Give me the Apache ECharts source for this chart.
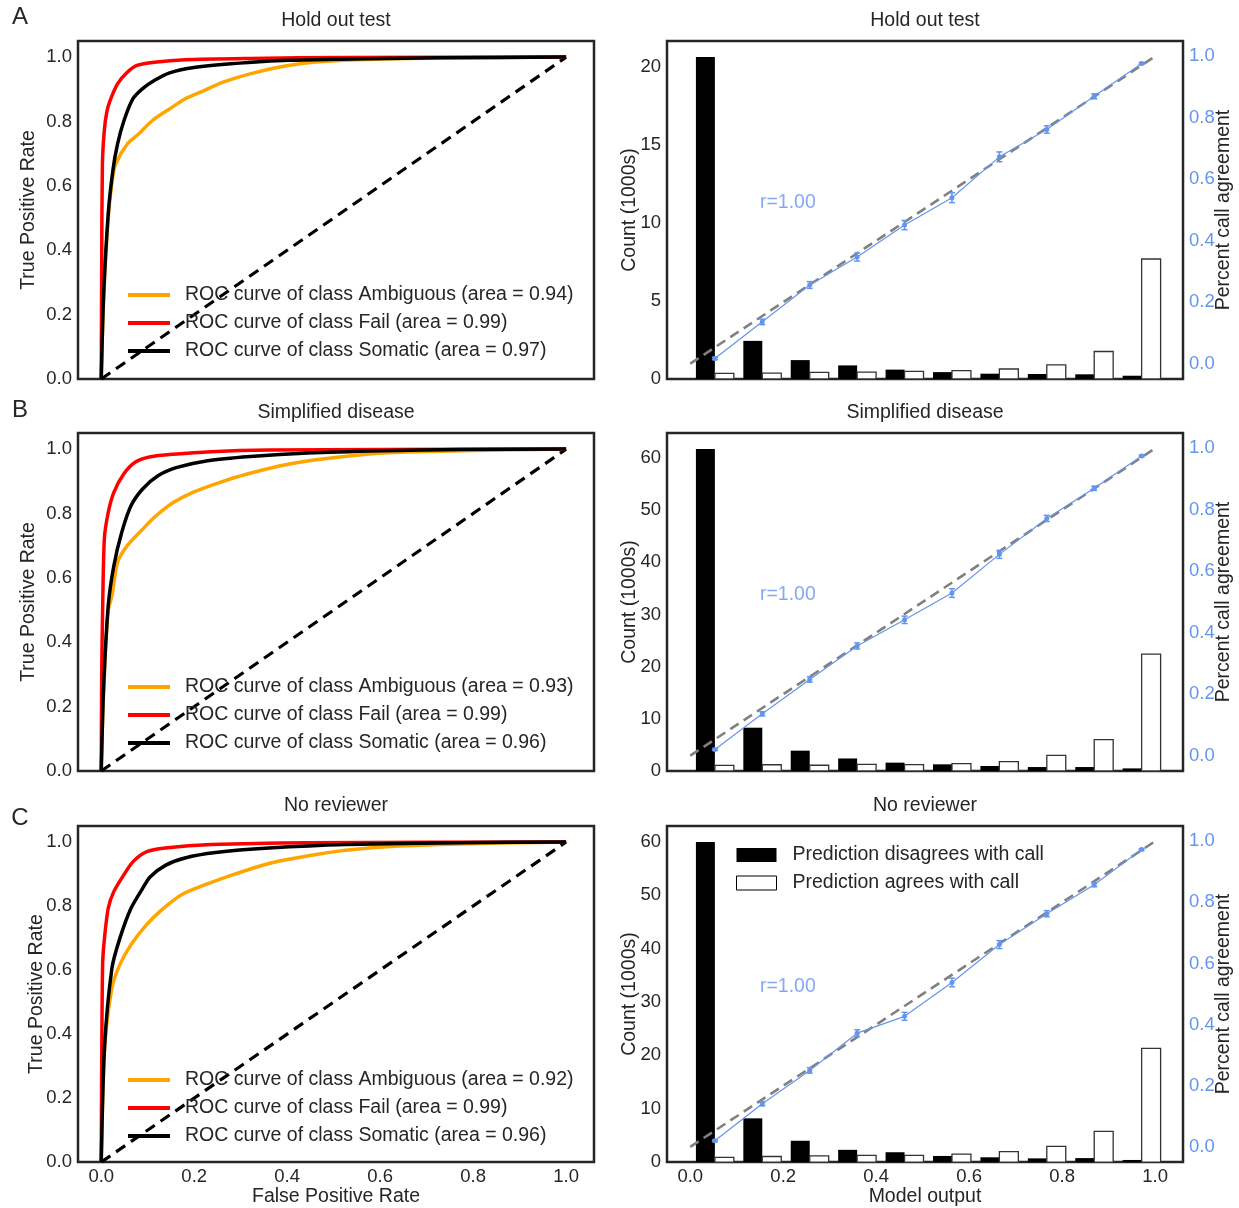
<!DOCTYPE html>
<html>
<head>
<meta charset="utf-8">
<script src="https://cdn.jsdelivr.net/npm/echarts@6/dist/echarts.min.js"></script>
<style>
  html, body { margin: 0; padding: 0; background: #fff; }
  #main { width: 1239px; height: 1208px; }
</style>
</head>
<body>
<div id="main"></div>
<script>
// ROC curves, [fpr, tpr]
var rocA_ambiguous = [[0,0],[0.005,0.25],[0.015,0.5],[0.024,0.62],[0.031,0.668],[0.056,0.73],[0.081,0.762],[0.11,0.803],[0.147,0.839],[0.18,0.87],[0.221,0.896],[0.262,0.922],[0.32,0.948],[0.402,0.974],[0.485,0.987],[0.608,0.994],[0.773,0.998],[1,1]]
var rocA_fail = [[0,0],[0.001,0.36],[0.0025,0.668],[0.0066,0.772],[0.012,0.83],[0.019,0.865],[0.035,0.917],[0.056,0.953],[0.077,0.974],[0.114,0.984],[0.18,0.992],[0.32,0.996],[0.526,0.999],[1,1]]
var rocA_somatic = [[0,0],[0.005,0.254],[0.015,0.513],[0.025,0.648],[0.035,0.73],[0.049,0.803],[0.068,0.87],[0.089,0.902],[0.114,0.927],[0.147,0.951],[0.196,0.967],[0.279,0.979],[0.402,0.99],[0.608,0.996],[0.856,0.999],[1,1]]

var rocB_ambiguous = [[0,0],[0.005,0.25],[0.015,0.5],[0.023,0.544],[0.035,0.648],[0.056,0.7],[0.089,0.751],[0.114,0.788],[0.155,0.834],[0.196,0.865],[0.254,0.896],[0.312,0.922],[0.402,0.953],[0.485,0.971],[0.608,0.988],[0.773,0.995],[0.938,0.999],[1,1]]
var rocB_fail = [[0,0],[0.001,0.3],[0.0025,0.461],[0.0066,0.72],[0.015,0.803],[0.027,0.865],[0.048,0.922],[0.073,0.959],[0.106,0.976],[0.155,0.984],[0.237,0.992],[0.361,0.997],[0.6,0.999],[1,1]]
var rocB_somatic = [[0,0],[0.005,0.254],[0.015,0.513],[0.027,0.637],[0.044,0.741],[0.064,0.824],[0.089,0.876],[0.122,0.917],[0.163,0.943],[0.229,0.964],[0.32,0.977],[0.444,0.988],[0.608,0.995],[0.773,0.999],[1,1]]

var rocC_ambiguous = [[0,0],[0.007,0.35],[0.023,0.544],[0.04,0.617],[0.064,0.679],[0.097,0.741],[0.13,0.788],[0.171,0.834],[0.221,0.865],[0.279,0.896],[0.361,0.933],[0.443,0.956],[0.526,0.974],[0.65,0.988],[0.814,0.995],[1,1]]
var rocC_fail = [[0,0],[0.001,0.3],[0.003,0.62],[0.007,0.7],[0.015,0.793],[0.027,0.845],[0.048,0.896],[0.068,0.938],[0.097,0.969],[0.138,0.981],[0.237,0.992],[0.444,0.998],[1,1]]
var rocC_somatic = [[0,0],[0.007,0.357],[0.023,0.606],[0.04,0.699],[0.064,0.793],[0.089,0.855],[0.105,0.891],[0.138,0.927],[0.18,0.95],[0.246,0.967],[0.361,0.981],[0.526,0.992],[0.773,0.998],[1,1]]

var chanceLine = [[0,0],[1,1]]
var rocNamesA = ['ROC curve of class Ambiguous (area = 0.94)', 'ROC curve of class Fail (area = 0.99)', 'ROC curve of class Somatic (area = 0.97)']
var rocNamesB = ['ROC curve of class Ambiguous (area = 0.93)', 'ROC curve of class Fail (area = 0.99)', 'ROC curve of class Somatic (area = 0.96)']
var rocNamesC = ['ROC curve of class Ambiguous (area = 0.92)', 'ROC curve of class Fail (area = 0.99)', 'ROC curve of class Somatic (area = 0.96)']
var rocColors = ['#ffa500', '#ff0000', '#000000']

// histogram of model output, counts in 1000s
var binCenters = [0.053, 0.155, 0.257, 0.359, 0.461, 0.563, 0.665, 0.767, 0.869, 0.971]
var binWidth = 0.102
var disagreeA = [20.6, 2.44, 1.21, 0.87, 0.6, 0.44, 0.34, 0.32, 0.3, 0.21]
var agreeA = [0.36, 0.38, 0.42, 0.44, 0.49, 0.53, 0.64, 0.9, 1.76, 7.68]
var disagreeB = [61.7, 8.3, 3.9, 2.4, 1.6, 1.28, 0.96, 0.76, 0.76, 0.5]
var agreeB = [1.09, 1.2, 1.1, 1.28, 1.22, 1.4, 1.78, 3.0, 6.0, 22.4]
var disagreeC = [60.0, 8.2, 4.0, 2.3, 1.85, 1.15, 0.9, 0.7, 0.75, 0.4]
var agreeC = [0.88, 1.05, 1.15, 1.25, 1.25, 1.5, 1.95, 2.95, 5.75, 21.3]

// percent call agreement per bin and its error
var agreementA = [0.017, 0.136, 0.256, 0.347, 0.451, 0.54, 0.673, 0.762, 0.87, 0.977]
var agreementB = [0.02, 0.136, 0.248, 0.357, 0.442, 0.529, 0.655, 0.772, 0.87, 0.975]
var agreementC = [0.02, 0.141, 0.25, 0.372, 0.427, 0.538, 0.662, 0.763, 0.858, 0.973]
var agreementErrA = [0.004, 0.009, 0.011, 0.013, 0.015, 0.016, 0.016, 0.012, 0.008, 0.003]
var agreementErrB = [0.003, 0.007, 0.009, 0.01, 0.012, 0.014, 0.013, 0.01, 0.007, 0.003]
var agreementErrC = [0.003, 0.007, 0.009, 0.011, 0.013, 0.014, 0.013, 0.01, 0.007, 0.003]
var rLabel = 'r=1.00'
var rAnchor = [0.15, 0.524]

var titles = ['Hold out test', 'Simplified disease', 'No reviewer']
var letters = ['A', 'B', 'C']
var unitTicks = [0, 0.2, 0.4, 0.6, 0.8, 1.0]
var countIntervals = [5, 10, 10]

var rows = [
  { roc: [rocA_ambiguous, rocA_fail, rocA_somatic], names: rocNamesA, dis: disagreeA, agr: agreeA, pct: agreementA, err: agreementErrA },
  { roc: [rocB_ambiguous, rocB_fail, rocB_somatic], names: rocNamesB, dis: disagreeB, agr: agreeB, pct: agreementB, err: agreementErrB },
  { roc: [rocC_ambiguous, rocC_fail, rocC_somatic], names: rocNamesC, dis: disagreeC, agr: agreeC, pct: agreementC, err: agreementErrC }
]

var FONT = 'Liberation Sans, Arial, Helvetica, sans-serif'
var TXT = '#262626'
var BLUE = '#6495ed'
var rowTops = [41, 433, 826]
var letterY = [17, 410, 818]
var gridH = 338
var leftX = 78
var rightX = 667
var gridW = 516

var myChart = echarts.init(document.getElementById('main'))

function fmt1(v) {
  return v.toFixed(1)
}

function barItem(params, api) {
  var a = api.coord([api.value(0), api.value(2)])
  var b = api.coord([api.value(1), 0])
  return {
    type: 'rect',
    shape: { x: a[0], y: a[1], width: b[0] - a[0], height: b[1] - a[1] },
    style: api.style()
  }
}

function errItem(params, api) {
  var x = api.value(0)
  var y = api.value(1)
  var e = api.value(2)
  var lo = api.coord([x, y - e])
  var hi = api.coord([x, y + e])
  var st = { stroke: BLUE, lineWidth: 1.5 }
  return {
    type: 'group',
    children: [
      { type: 'line', shape: { x1: lo[0], y1: lo[1], x2: hi[0], y2: hi[1] }, style: st },
      { type: 'line', shape: { x1: lo[0] - 3, y1: lo[1], x2: lo[0] + 3, y2: lo[1] }, style: st },
      { type: 'line', shape: { x1: hi[0] - 3, y1: hi[1], x2: hi[0] + 3, y2: hi[1] }, style: st }
    ]
  }
}

var grids = []
var xAxes = []
var yAxes = []
var series = []
var legends = []
var graphics = []

rows.forEach(function(row, r) {
  var last = r === rows.length - 1
  grids.push({ left: leftX, top: rowTops[r], width: gridW, height: gridH, show: true, borderColor: TXT, borderWidth: 2.5 })
  grids.push({ left: rightX, top: rowTops[r], width: gridW, height: gridH, show: true, borderColor: TXT, borderWidth: 2.5 })

  var xCommon = {
    type: 'value', min: -0.05, max: 1.06,
    axisLine: { show: false }, axisTick: { show: false }, splitLine: { show: false },
    axisLabel: { show: last, customValues: unitTicks, formatter: fmt1, color: TXT, fontSize: 18.5, margin: 5, fontFamily: FONT },
    nameLocation: 'middle', nameGap: 22,
    nameTextStyle: { color: TXT, fontSize: 19.5, fontFamily: FONT }
  }
  xAxes.push(Object.assign({}, xCommon, { gridIndex: 2 * r, name: last ? 'False Positive Rate' : '' }))
  xAxes.push(Object.assign({}, xCommon, { gridIndex: 2 * r + 1, name: last ? 'Model output' : '' }))

  yAxes.push({
    type: 'value', gridIndex: 2 * r, min: 0, max: 1.05,
    axisLine: { show: false }, axisTick: { show: false }, splitLine: { show: false },
    axisLabel: { customValues: unitTicks, formatter: fmt1, color: TXT, fontSize: 18.5, margin: 6, fontFamily: FONT },
    name: 'True Positive Rate', nameLocation: 'middle', nameRotate: 90, nameGap: last ? 31 : 39, nameMoveOverlap: false,
    nameTextStyle: { color: TXT, fontSize: 19.5, fontFamily: FONT }
  })
  yAxes.push({
    type: 'value', gridIndex: 2 * r + 1, min: 0, interval: countIntervals[r],
    max: function(v) { return v.max * 1.05 },
    axisLine: { show: false }, axisTick: { show: false }, splitLine: { show: false },
    axisLabel: { color: TXT, fontSize: 18.5, margin: 6, fontFamily: FONT, showMaxLabel: false },
    name: 'Count (1000s)', nameLocation: 'middle', nameRotate: 90, nameGap: 27, nameMoveOverlap: false,
    nameTextStyle: { color: TXT, fontSize: 19.5, fontFamily: FONT }
  })
  yAxes.push({
    type: 'value', gridIndex: 2 * r + 1, position: 'right', min: -0.05, max: 1.05,
    axisLine: { show: false }, axisTick: { show: false }, splitLine: { show: false },
    axisLabel: { customValues: unitTicks, formatter: fmt1, color: BLUE, fontSize: 18.5, margin: 6, fontFamily: FONT },
    name: 'Percent call agreement', nameLocation: 'middle', nameRotate: 90, nameGap: 31, nameMoveOverlap: false,
    nameTextStyle: { color: TXT, fontSize: 19.5, fontFamily: FONT }
  })

  // ROC panel
  row.roc.forEach(function(curve, k) {
    series.push({
      type: 'line', name: row.names[k], xAxisIndex: 2 * r, yAxisIndex: 3 * r,
      data: curve, showSymbol: false, smooth: 0.25, z: 3 + k,
      lineStyle: { color: rocColors[k], width: 3.5 }, itemStyle: { color: rocColors[k] }
    })
  })
  series.push({
    type: 'line', xAxisIndex: 2 * r, yAxisIndex: 3 * r, data: chanceLine, showSymbol: false, z: 2,
    lineStyle: { color: '#000', width: 3.2, type: [11, 7] }
  })
  legends.push({
    data: row.names, orient: 'vertical', left: 128, top: rowTops[r] + 244, padding: 0,
    icon: 'rect', itemWidth: 42, itemHeight: 4, itemGap: 8, selectedMode: false,
    textStyle: { color: TXT, fontSize: 19.5, fontFamily: FONT, lineHeight: 20, padding: [0, 0, 0, 10] }
  })

  // histogram panel
  series.push({
    type: 'custom', name: 'Prediction disagrees with call', xAxisIndex: 2 * r + 1, yAxisIndex: 3 * r + 1,
    renderItem: barItem, encode: { x: [0, 1], y: 2 }, z: 2,
    itemStyle: { color: '#000' },
    data: row.dis.map(function(v, i) { return [binCenters[i] - 0.4 * binWidth, binCenters[i], v] })
  })
  series.push({
    type: 'custom', name: 'Prediction agrees with call', xAxisIndex: 2 * r + 1, yAxisIndex: 3 * r + 1,
    renderItem: barItem, encode: { x: [0, 1], y: 2 }, z: 2,
    itemStyle: { color: '#fff', borderColor: '#333', borderWidth: 1.3 },
    data: row.agr.map(function(v, i) { return [binCenters[i], binCenters[i] + 0.4 * binWidth, v] })
  })
  series.push({
    type: 'line', xAxisIndex: 2 * r + 1, yAxisIndex: 3 * r + 2, data: chanceLine, showSymbol: false, z: 3,
    lineStyle: { color: '#808080', width: 2.6, type: [10, 6] }
  })
  series.push({
    type: 'custom', xAxisIndex: 2 * r + 1, yAxisIndex: 3 * r + 2, renderItem: errItem,
    encode: { x: 0, y: 1 }, z: 4,
    data: row.pct.map(function(v, i) { return [binCenters[i], v, row.err[i]] })
  })
  series.push({
    type: 'line', xAxisIndex: 2 * r + 1, yAxisIndex: 3 * r + 2, z: 5,
    data: row.pct.map(function(v, i) { return [binCenters[i], v] }),
    symbol: 'circle', symbolSize: 5, showSymbol: true,
    lineStyle: { color: BLUE, width: 1.2 }, itemStyle: { color: BLUE }
  })
  series.push({
    type: 'scatter', xAxisIndex: 2 * r + 1, yAxisIndex: 3 * r + 2, data: [rAnchor], symbolSize: 0, z: 6,
    label: { show: true, position: 'right', distance: 0, formatter: rLabel, color: BLUE, fontSize: 19.5, fontFamily: FONT }
  })

  graphics.push({ type: 'text', x: leftX + gridW / 2, y: rowTops[r] - 20, style: { text: titles[r], textAlign: 'center', textVerticalAlign: 'middle', fill: TXT, font: '19.5px ' + FONT } })
  graphics.push({ type: 'text', x: rightX + gridW / 2, y: rowTops[r] - 20, style: { text: titles[r], textAlign: 'center', textVerticalAlign: 'middle', fill: TXT, font: '19.5px ' + FONT } })
  graphics.push({ type: 'text', x: 20, y: letterY[r], style: { text: letters[r], textAlign: 'center', textVerticalAlign: 'middle', fill: TXT, font: '24px ' + FONT } })
})

legends.push({
  orient: 'vertical', left: 736, top: 845, padding: 0, icon: 'rect', itemWidth: 40, itemHeight: 14, itemGap: 8, selectedMode: false,
  data: [
    { name: 'Prediction disagrees with call', itemStyle: { color: '#000' } },
    { name: 'Prediction agrees with call', itemStyle: { color: '#fff', borderColor: '#000', borderWidth: 1 } }
  ],
  textStyle: { color: TXT, fontSize: 19.5, fontFamily: FONT, lineHeight: 20, padding: [0, 0, 0, 11] }
})

var option = {
  animation: false,
  backgroundColor: '#fff',
  textStyle: { fontFamily: FONT },
  grid: grids,
  xAxis: xAxes,
  yAxis: yAxes,
  legend: legends,
  graphic: graphics,
  series: series
}
myChart.setOption(option)
window.onresize = function() {
  myChart.resize()
}
</script>
</body>
</html>
